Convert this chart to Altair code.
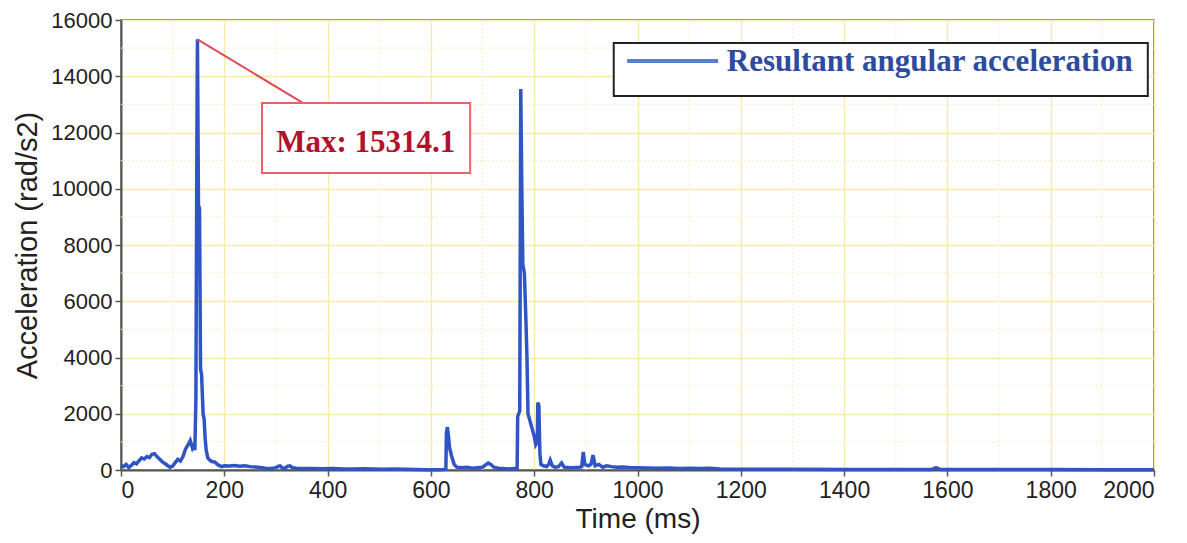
import altair as alt
import pandas as pd

# ---- data ----
time_ms = [0, 5, 10, 15, 20, 25, 30, 35, 40, 45, 50, 55, 60, 65, 70, 75, 80, 85, 90, 95,
           100, 105, 110, 115, 120, 125, 130, 134, 138, 141, 143, 145, 147, 148, 150, 152,
           154, 156, 159, 161, 163, 165, 168, 172, 176, 182, 188, 195, 200, 210, 220, 230,
           240, 250, 260, 270, 280, 290, 300, 305, 308, 312, 318, 322, 327, 332, 340, 350,
           370, 390, 410, 430, 450, 470, 490, 510, 530, 550, 570, 590, 610, 625, 629, 630,
           632, 634, 636, 640, 645, 650, 660, 670, 680, 690, 700, 706, 711, 716, 722, 730,
           740, 750, 760, 767, 768, 770, 772, 774, 776, 778, 781, 784, 786, 788, 791, 794,
           797, 800, 803, 806, 807, 809, 811, 813, 818, 824, 828, 831, 835, 840, 847, 853,
           858, 865, 872, 880, 888, 892, 895, 898, 905, 910, 914, 918, 925, 933, 940, 950,
           960, 970, 985, 1000, 1020, 1040, 1060, 1080, 1100, 1120, 1140, 1160, 1200, 1300,
           1400, 1500, 1570, 1578, 1586, 1650, 1800, 1900, 2000]
accel = [150, 120, 200, 90, 160, 260, 220, 330, 430, 390, 480, 440, 560, 580, 470, 380, 290, 230, 160, 100,
         140, 260, 380, 320, 480, 750, 900, 1050, 800, 950, 700, 2500, 12000, 15314.1, 9400, 9300,
         3600, 3400, 2000, 1800, 1100, 700, 430, 350, 300, 280, 180, 120, 150, 140, 160, 130,
         150, 120, 110, 90, 60, 50, 80, 140, 150, 80, 60, 130, 150, 80, 60, 50,
         50, 45, 50, 40, 40, 45, 35, 30, 35, 25, 20, 10, 10, 20, 30, 1300,
         1525, 1200, 800, 500, 200, 100, 80, 100, 60, 80, 100, 180, 250, 200, 100, 60,
         50, 40, 50, 60, 1900, 2000, 2100, 13550, 10000, 7300, 7000, 5300, 4000, 2000, 1800, 1600,
         1400, 1200, 900, 1000, 2400, 2300, 600, 200, 150, 120, 200, 350, 150, 100, 120, 250,
         100, 90, 80, 90, 100, 120, 640, 200, 150, 200, 530, 150, 200, 100, 150, 120,
         100, 110, 90, 80, 70, 60, 70, 50, 60, 50, 60, 40, 30, 25,
         20, 20, 20, 80, 20, 15, 15, 10, 10]

series_name = "Resultant angular acceleration"
x_ticks = list(range(0, 2001, 200))
y_ticks = list(range(0, 16001, 2000))
x_minor = list(range(100, 2000, 200))
y_minor = list(range(1000, 16000, 2000))

peak_time = [148]
peak_value = [15314.1]
label_text = ["Max: 15314.1"]
box_t = [273, 676]
box_v = [10560, 13050]
connector_end = [352, 13050]
label_pos = [474, 11310]

legend_box_t = [954, 1988]
legend_box_v = [13300, 15180]
legend_line_t = [980, 1156]
legend_line_v = 14540
legend_text_pos = [1173, 14185]

# ---- tables ----
df = pd.DataFrame({"t": time_ms, "a": accel, "series": series_name})
xm = pd.DataFrame({"t": x_minor})
ym = pd.DataFrame({"a": y_minor})
conn = pd.DataFrame({"t": peak_time, "a": peak_value,
                     "t2": [connector_end[0]], "a2": [connector_end[1]]})
box = pd.DataFrame({"t": [box_t[0]], "t2": [box_t[1]], "a": [box_v[0]], "a2": [box_v[1]]})
lab = pd.DataFrame({"t": [label_pos[0]], "a": [label_pos[1]], "txt": label_text})
lbox = pd.DataFrame({"t": [legend_box_t[0]], "t2": [legend_box_t[1]],
                     "a": [legend_box_v[0]], "a2": [legend_box_v[1]]})
lline = pd.DataFrame({"t": [legend_line_t[0]], "t2": [legend_line_t[1]],
                      "a": [legend_line_v], "a2": [legend_line_v]})
ltext = pd.DataFrame({"t": [legend_text_pos[0]], "a": [legend_text_pos[1]], "txt": [series_name]})

xscale = alt.Scale(domain=[0, 2000], nice=False, zero=False)
yscale = alt.Scale(domain=[0, 16000], nice=False)

x_axis = alt.Axis(values=x_ticks, format="d", title="Time (ms)", titleFontSize=28, titlePadding=3,
                  labelFontSize=23)
y_axis = alt.Axis(values=y_ticks, format="d", title="Acceleration (rad/s2)", titleFontSize=29,
                  titlePadding=8, labelFontSize=22)

line_color = "#2f55c4"

minor_color = "#f6efcf"
vminor = alt.Chart(xm).mark_rule(color=minor_color, strokeWidth=1.2, strokeDash=[2, 2]).encode(
    x=alt.X("t:Q", scale=xscale, axis=x_axis))
hminor = alt.Chart(ym).mark_rule(color=minor_color, strokeWidth=1.2, strokeDash=[2, 2]).encode(
    y=alt.Y("a:Q", scale=yscale, axis=y_axis))

line = alt.Chart(df).mark_line(strokeWidth=3.5, color=line_color, interpolate="linear").encode(
    x=alt.X("t:Q", scale=xscale, axis=x_axis),
    y=alt.Y("a:Q", scale=yscale, axis=y_axis),
)

connector = alt.Chart(conn).mark_rule(color="#e04a55", strokeWidth=2).encode(
    x="t:Q", y="a:Q", x2="t2:Q", y2="a2:Q")
rect = alt.Chart(box).mark_rect(fill="white", stroke="#e8626b", strokeWidth=2).encode(
    x="t:Q", x2="t2:Q", y="a:Q", y2="a2:Q")
text = alt.Chart(lab).mark_text(font="Liberation Serif", fontWeight="bold", fontSize=31,
                                color="#b3102a", align="center", baseline="alphabetic").encode(
    x="t:Q", y="a:Q", text="txt:N")

legend_rect = alt.Chart(lbox).mark_rect(fill="white", stroke="#222222", strokeWidth=2).encode(
    x="t:Q", x2="t2:Q", y="a:Q", y2="a2:Q")
legend_line = alt.Chart(lline).mark_rule(color="#5a7fd2", strokeWidth=4).encode(
    x="t:Q", x2="t2:Q", y="a:Q")
legend_text = alt.Chart(ltext).mark_text(font="Liberation Serif", fontWeight="bold", fontSize=31,
                                         color="#2e4b9e", align="left", baseline="alphabetic").encode(
    x="t:Q", y="a:Q", text="txt:N")

chart = alt.layer(vminor, hminor, line, connector, rect, text,
                  legend_rect, legend_line, legend_text).properties(
    width=1033, height=450,
    autosize=alt.AutoSizeParams(type="none"),
    padding={"left": 113, "top": 12, "right": 20, "bottom": 64},
    background="white",
).configure_view(
    stroke="#555555", strokeWidth=1.5, fill="white"
).configure_axis(
    grid=True, gridColor="#f8eba8", gridWidth=1.4,
    domainColor="#555555", domainWidth=2,
    tickColor="#555555", tickSize=6, tickWidth=1.5,
    labelFont="Liberation Sans", labelColor="#222222",
    titleFont="Liberation Sans", titleFontWeight="normal",
    titleColor="#222222",
).configure_axisX(
    labelPadding=3,
).configure_axisY(
    labelPadding=3,
)

chart.save("out.html", embed_options={"renderer": "svg", "actions": False})
